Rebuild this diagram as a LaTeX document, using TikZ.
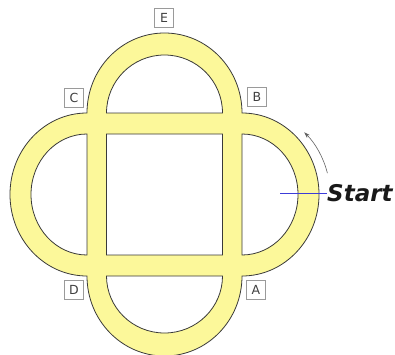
\documentclass[tikz,border=0pt]{standalone}
\usepackage{fontspec}
\setsansfont{DejaVu Sans}
\usetikzlibrary{arrows.meta}
\definecolor{track}{HTML}{FCF89A}
\definecolor{edge}{HTML}{3A3A3A}
\definecolor{lbl}{HTML}{9A9A9A}
\definecolor{startblue}{HTML}{3C3CD8}
\tikzset{
  trackfill/.style={fill=track,draw=edge,line width=0.8pt,even odd rule},
  lblbox/.style={draw=lbl,line width=1pt,fill=white,minimum width=19pt,minimum height=19pt,inner sep=0pt,
    font=\sffamily\fontsize{12.5}{12.5}\selectfont,text=black!75},
  starttext/.style={font=\sffamily\bfseries\itshape\fontsize{23}{23}\selectfont,inner sep=0pt,anchor=west,text=black!90},
  dirarrow/.style={draw=edge!80,line width=0.6pt,-{Stealth[length=6pt,width=4pt]}}
}
\begin{document}
\begin{tikzpicture}[x=1pt,y=1pt]
\useasboundingbox (0,0) rectangle (395,354);
\clip (0,0) rectangle (395,354);
% track
\path[trackfill]
  (242,241) arc[start angle=0,end angle=180,x radius=77.5,y radius=80]
  arc[start angle=90,end angle=270,x radius=77,y radius=81.5]
  arc[start angle=180,end angle=360,x radius=77.5,y radius=80]
  arc[start angle=-90,end angle=90,x radius=77,y radius=81.5] -- cycle
  (106.5,241) arc[start angle=180,end angle=0,x radius=58,y radius=58] -- cycle
  (87,220) arc[start angle=90,end angle=270,x radius=56,y radius=60.5] -- cycle
  (106.5,78) arc[start angle=180,end angle=360,x radius=58,y radius=57] -- cycle
  (242,99) arc[start angle=-90,end angle=90,x radius=56,y radius=60.5] -- cycle
  (106.5,99) rectangle (222.5,220);
% labels
\node[lblbox] (E) at (164,336) {E};
\node[lblbox] (C) at (74,256) {C};
\node[lblbox] (B) at (257,257) {B};
\node[lblbox] (D) at (74,64) {D};
\node[lblbox] (A) at (256,64) {A};
% start marker
\coordinate (startline) at (280,160.5);
\node[starttext] (start) at (327,160.5) {Start};
\draw[startblue,line width=0.9pt] (startline) -- (start.west);
% direction arrow
\coordinate (arrowtail) at (327.4,180.8);
\draw[dirarrow] (arrowtail) arc[start angle=14,end angle=45,radius=88];
\end{tikzpicture}
\end{document}
